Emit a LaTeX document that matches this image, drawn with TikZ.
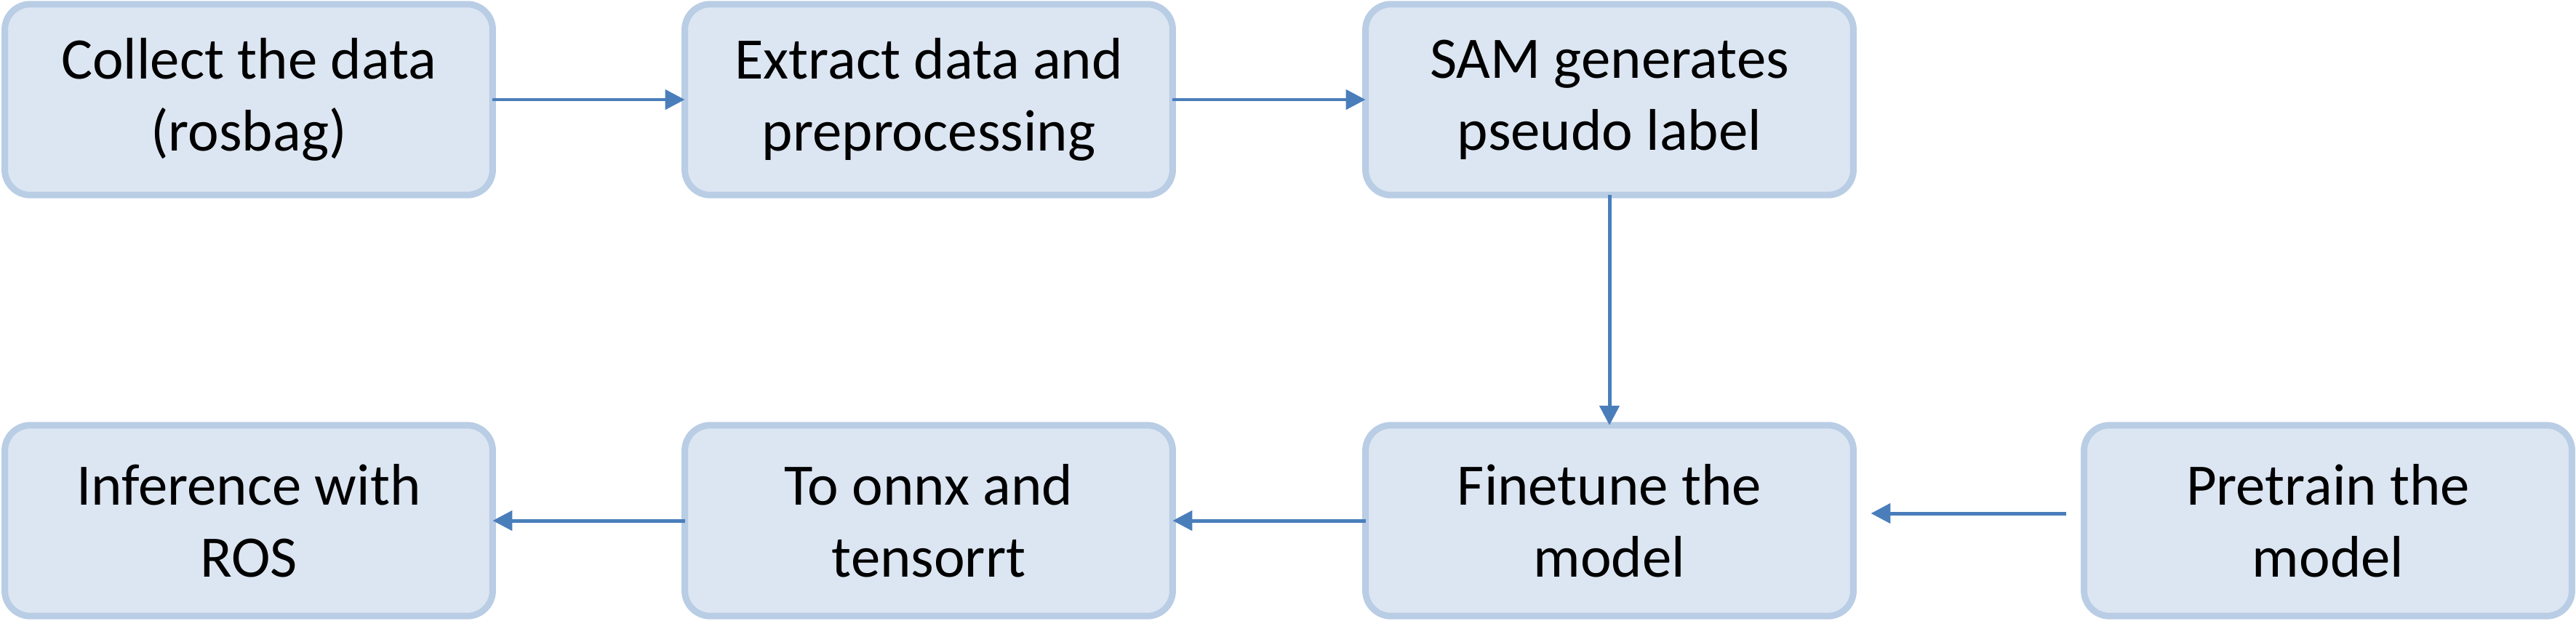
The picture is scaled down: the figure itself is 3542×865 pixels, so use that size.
\documentclass[tikz,border=0pt]{standalone}
\usepackage{fontspec}
\setmainfont{Carlito}
\usetikzlibrary{arrows.meta}
\definecolor{boxfill}{HTML}{DCE6F2}
\definecolor{boxline}{HTML}{B9CDE5}
\definecolor{arrowc}{HTML}{4A7EBB}
\begin{document}
\begin{tikzpicture}[x=0.02cm,y=-0.02cm,
  stepbox/.style={draw=boxline, fill=boxfill, line width=0.18cm, rounded corners=0.7cm,
    minimum width=13.42cm, minimum height=5.25cm, inner sep=0pt, outer sep=0pt,
    align=center, font=\fontsize{46}{56.5}\selectfont},
  flow/.style={draw=arrowc, line width=0.1cm, -{Triangle[length=0.54cm,width=0.54cm]}}]
\useasboundingbox (0,0) rectangle (3542,865);
\node[stepbox] (b1) at (342,137) {Collect the data\\(rosbag)};
\node[stepbox] (b2) at (1277,137) {Extract data and\\preprocessing};
\node[stepbox] (b3) at (2213,137) {SAM generates\\pseudo label};
\node[stepbox] (b4) at (342,716) {Inference with\\ROS};
\node[stepbox] (b5) at (1277,716) {To onnx and\\tensorrt};
\node[stepbox] (b6) at (2213,716) {Finetune the\\model};
\node[stepbox] (b7) at (3201,716) {Pretrain the\\model};
\draw[flow] (b1.east) -- (b2.west);
\draw[flow] (b2.east) -- (b3.west);
\draw[flow] (b3.south) -- (b6.north);
\draw[flow, shorten <=0.5cm, shorten >=0.48cm] ([yshift=0.2cm]b7.west) -- ([yshift=0.2cm]b6.east);
\draw[flow] (b6.west) -- (b5.east);
\draw[flow] (b5.west) -- (b4.east);
\end{tikzpicture}
\end{document}
